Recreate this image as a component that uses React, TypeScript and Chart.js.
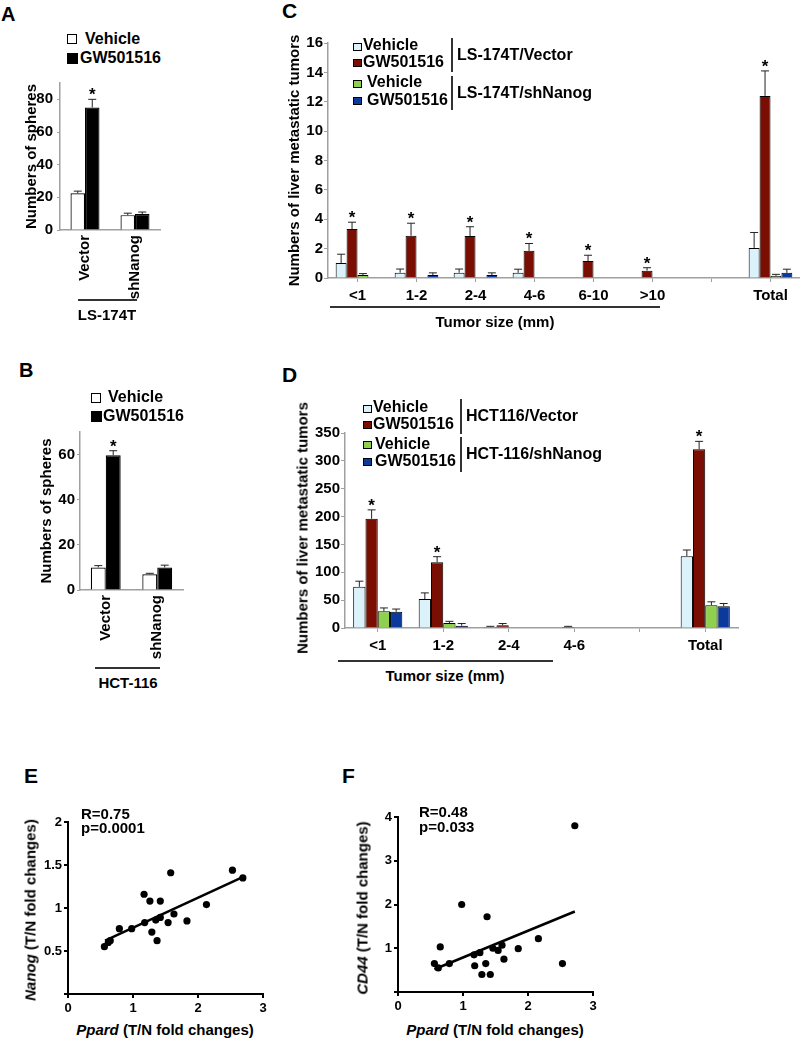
import React, { useEffect, useRef } from 'react';
import { Chart, registerables } from 'chart.js';

Chart.register(...registerables);

// ---------------- Panel A ----------------
const aCategories = ['Vector', 'shNanog'];
const aVehicle = [22.5, 9.1];
const aVehicleErr = [1.3, 1.2];
const aGW = [75, 9.8];
const aGWErr = [5, 1.2];
const aGWStar = [true, false];

// ---------------- Panel B ----------------
const bCategories = ['Vector', 'shNanog'];
const bVehicle = [10, 7];
const bVehicleErr = [0.8, 0.4];
const bGW = [59.7, 10];
const bGWErr = [2, 1];
const bGWStar = [true, false];

// ---------------- Panel C ----------------
const cCategories = ['<1', '1-2', '2-4', '4-6', '6-10', '>10', '', 'Total'];
const cVectorVehicle = [1.02, 0.36, 0.36, 0.35, null, null, null, 2.05];
const cVectorVehicleErr = [0.6, 0.25, 0.25, 0.25, 0, 0, 0, 1.05];
const cVectorGW = [3.33, 2.88, 2.86, 1.85, 1.15, 0.5, null, 12.4];
const cVectorGWErr = [0.47, 0.85, 0.63, 0.5, 0.4, 0.2, 0, 1.7];
const cVectorGWStar = [true, true, true, true, true, true, false, true];
const cShVehicle = [0.2, null, null, null, null, null, null, 0.15];
const cShVehicleErr = [0.1, 0, 0, 0, 0, 0, 0, 0.1];
const cShGW = [null, 0.2, 0.2, null, null, null, null, 0.35];
const cShGWErr = [0, 0.15, 0.15, 0, 0, 0, 0, 0.25];

// ---------------- Panel D ----------------
const dCategories = ['<1', '1-2', '2-4', '4-6', '', 'Total'];
const dVectorVehicle = [74, 52, 2, null, null, 129];
const dVectorVehicleErr = [10, 11, 1, 0, 0, 11];
const dVectorGW = [196, 118, 5, 2, null, 321];
const dVectorGWErr = [16, 10, 3, 1, 0, 14];
const dVectorGWStar = [true, true, false, false, false, true];
const dShVehicle = [30, 9, 1, null, null, 41];
const dShVehicleErr = [6, 3, 0, 0, 0, 6];
const dShGW = [29, 4, 1, null, null, 39];
const dShGWErr = [5, 4, 0, 0, 0, 5];

// ---------------- Panel E ----------------
const ePpard = [0.56, 0.62, 0.65, 0.79, 0.98, 1.18, 1.17, 1.26, 1.42, 1.29, 1.37, 1.35, 1.42, 1.54, 1.63, 1.58, 1.83, 2.13, 2.53, 2.69];
const eNanog = [0.55, 0.6, 0.62, 0.76, 0.76, 0.83, 1.16, 1.08, 1.08, 0.72, 0.62, 0.86, 0.89, 0.83, 0.93, 1.41, 0.85, 1.04, 1.44, 1.35];
const eFitX = [0.57, 2.72];
const eFitY = [0.62, 1.37];

// ---------------- Panel F ----------------
const fPpard = [0.56, 0.62, 0.65, 0.79, 0.98, 1.18, 1.17, 1.26, 1.42, 1.29, 1.37, 1.35, 1.46, 1.54, 1.63, 1.6, 1.85, 2.16, 2.53, 2.72];
const fCD44 = [0.65, 0.55, 1.03, 0.65, 2.0, 0.6, 0.85, 0.9, 0.4, 0.4, 1.72, 0.65, 1.0, 0.95, 0.75, 1.07, 0.99, 1.22, 0.65, 3.8];
const fFitX = [0.56, 2.72];
const fFitY = [0.52, 1.84];

// ---------------- styles ----------------
const FONT = '"Liberation Sans", Arial, Helvetica, sans-serif';
const AXIS_GRAY = '#a0a0a0';
const C_VEH = '#dcf2fb';
const C_GW = '#7a0e02';
const C_SHVEH = '#8fd14f';
const C_SHGW = '#0b3a9c';

const errorBarPlugin = {
  id: 'errorBars',
  afterDatasetsDraw(chart: any) {
    const ctx = chart.ctx;
    const yScale = chart.scales.y;
    chart.data.datasets.forEach((ds: any, i: number) => {
      if (!ds.errors) return;
      const meta = chart.getDatasetMeta(i);
      meta.data.forEach((bar: any, j: number) => {
        const v = ds.data[j];
        if (v == null) return;
        const e = ds.errors[j] || 0;
        const top = yScale.getPixelForValue(v + e);
        ctx.save();
        if (e > 0) {
          ctx.strokeStyle = '#222';
          ctx.lineWidth = 1;
          ctx.beginPath();
          ctx.moveTo(bar.x, bar.y);
          ctx.lineTo(bar.x, top);
          ctx.moveTo(bar.x - 4, top);
          ctx.lineTo(bar.x + 4, top);
          ctx.stroke();
        }
        if (ds.stars && ds.stars[j]) {
          ctx.fillStyle = '#000';
          ctx.font = `bold 17px ${FONT}`;
          ctx.textAlign = 'center';
          ctx.textBaseline = 'alphabetic';
          ctx.fillText('*', bar.x, top + 1);
        }
        ctx.restore();
      });
    });
  },
};

type BarOpts = {
  labels: string[];
  datasets: any[];
  yMax: number;
  yStep: number;
  yW: number;
  xH: number;
  padTop: number;
  padRight: number;
  title: string;
  titleSize: number;
  tickSize: number;
  yTickLen: number;
  yTickPad: number;
  xRot: number;
  xTickLen: number;
  xTickPad: number;
  xTickSize: number;
  catPct: number;
};

function barConfig(o: BarOpts) {
  return {
    type: 'bar',
    data: { labels: o.labels, datasets: o.datasets },
    options: {
      animation: false,
      responsive: false,
      layout: { padding: { top: o.padTop, right: o.padRight, left: 0, bottom: 0 } },
      plugins: { legend: { display: false }, tooltip: { enabled: false } },
      datasets: { bar: { categoryPercentage: o.catPct, barPercentage: 1 } },
      scales: {
        x: {
          ticks: {
            font: { family: FONT, size: o.xTickSize, weight: 'bold' },
            color: '#000',
            autoSkip: false,
            maxRotation: o.xRot,
            minRotation: o.xRot,
            padding: o.xTickPad,
          },
          grid: {
            display: true,
            drawOnChartArea: false,
            offset: false,
            drawTicks: o.xTickLen > 0,
            tickLength: o.xTickLen,
            color: AXIS_GRAY,
          },
          border: { display: true, color: AXIS_GRAY, width: 1.5 },
          afterFit: (s: any) => {
            s.height = o.xH;
          },
        },
        y: {
          min: 0,
          max: o.yMax,
          ticks: {
            stepSize: o.yStep,
            includeBounds: false,
            font: { family: FONT, size: o.tickSize, weight: 'bold' },
            color: '#000',
            padding: o.yTickPad,
          },
          grid: {
            display: true,
            drawOnChartArea: false,
            drawTicks: true,
            tickLength: o.yTickLen,
            color: AXIS_GRAY,
          },
          border: { display: true, color: AXIS_GRAY, width: 1.5 },
          title: {
            display: o.title !== '',
            text: o.title,
            color: '#000',
            padding: 0,
            font: { family: FONT, size: o.titleSize, weight: 'bold', lineHeight: 1.2 },
          },
          afterFit: (s: any) => {
            s.width = o.yW;
          },
        },
      },
    },
    plugins: [errorBarPlugin],
  };
}

type ScatterOpts = {
  xs: number[];
  ys: number[];
  fitX: number[];
  fitY: number[];
  yMax: number;
  yStep: number;
  yW: number;
  xH: number;
  padTop: number;
  padRight: number;
};

function scatterConfig(o: ScatterOpts) {
  return {
    type: 'scatter',
    data: {
      datasets: [
        {
          data: o.xs.map((x, i) => ({ x, y: o.ys[i] })),
          pointRadius: 3.6,
          pointBackgroundColor: '#000',
          pointBorderColor: '#000',
          pointBorderWidth: 0,
        },
        {
          type: 'line',
          data: o.fitX.map((x, i) => ({ x, y: o.fitY[i] })),
          borderColor: '#000',
          borderWidth: 2.5,
          pointRadius: 0,
          showLine: true,
          fill: false,
        },
      ],
    },
    options: {
      animation: false,
      responsive: false,
      layout: { padding: { top: o.padTop, right: o.padRight, left: 0, bottom: 0 } },
      plugins: { legend: { display: false }, tooltip: { enabled: false } },
      scales: {
        x: {
          type: 'linear',
          min: 0,
          max: 3,
          ticks: {
            stepSize: 1,
            font: { family: FONT, size: 13, weight: 'bold' },
            color: '#000',
            padding: 3,
          },
          grid: { display: true, drawOnChartArea: false, drawTicks: true, tickLength: 4, color: '#000', lineWidth: 2 },
          border: { display: true, color: '#000', width: 2 },
          afterFit: (s: any) => {
            s.height = o.xH;
          },
        },
        y: {
          min: 0,
          max: o.yMax,
          ticks: {
            stepSize: o.yStep,
            font: { family: FONT, size: 13, weight: 'bold' },
            color: '#000',
            padding: 2,
            callback: (v: any) => (v === 0 ? '' : String(v)),
          },
          grid: { display: true, drawOnChartArea: false, drawTicks: true, tickLength: 4, color: '#000', lineWidth: 2 },
          border: { display: true, color: '#000', width: 2 },
          afterFit: (s: any) => {
            s.width = o.yW;
          },
        },
      },
    },
  };
}

function ChartBox(props: { left: number; top: number; width: number; height: number; make: () => any }) {
  const ref = useRef<HTMLCanvasElement>(null);
  useEffect(() => {
    const chart = new Chart(ref.current as HTMLCanvasElement, props.make());
    return () => chart.destroy();
  }, []);
  return (
    <canvas
      ref={ref}
      width={props.width}
      height={props.height}
      style={{ position: 'absolute', left: props.left, top: props.top, width: props.width, height: props.height }}
    />
  );
}

// text placed by its baseline
function T(props: { x: number; base: number; size: number; children: any; center?: boolean }) {
  const s = props.size;
  return (
    <div
      style={{
        position: 'absolute',
        left: props.x,
        top: props.base - 0.85 * s,
        fontFamily: FONT,
        fontWeight: 'bold',
        fontSize: s,
        lineHeight: `${s}px`,
        whiteSpace: 'nowrap',
        color: '#000',
        transform: props.center ? 'translateX(-50%)' : undefined,
      }}
    >
      {props.children}
    </div>
  );
}

function Box(props: { x: number; y: number; w: number; h: number; fill: string; border?: number }) {
  return (
    <div
      style={{
        position: 'absolute',
        left: props.x,
        top: props.y,
        width: props.w,
        height: props.h,
        background: props.fill,
        border: `${props.border ?? 1}px solid #000`,
        boxSizing: 'border-box',
      }}
    />
  );
}

function HLine(props: { x1: number; x2: number; y: number; color?: string; w?: number }) {
  return (
    <div
      style={{
        position: 'absolute',
        left: props.x1,
        top: props.y,
        width: props.x2 - props.x1,
        height: props.w ?? 1.5,
        background: props.color ?? '#333',
      }}
    />
  );
}

function VLine(props: { x: number; y1: number; y2: number }) {
  return (
    <div style={{ position: 'absolute', left: props.x, top: props.y1, width: 1.5, height: props.y2 - props.y1, background: '#333' }} />
  );
}

function RotTitle(props: { cx: number; cy: number; size: number; children: any }) {
  return (
    <div
      style={{
        position: 'absolute',
        left: props.cx,
        top: props.cy,
        transform: 'translate(-50%, -50%) rotate(-90deg)',
        fontFamily: FONT,
        fontWeight: 'bold',
        fontSize: props.size,
        lineHeight: `${props.size}px`,
        whiteSpace: 'nowrap',
        color: '#000',
      }}
    >
      {props.children}
    </div>
  );
}

const makeA = () =>
  barConfig({
    labels: aCategories,
    datasets: [
      { label: 'Vehicle', data: aVehicle, errors: aVehicleErr, backgroundColor: '#fff', borderColor: '#000', borderWidth: 1.2 },
      { label: 'GW501516', data: aGW, errors: aGWErr, stars: aGWStar, backgroundColor: '#000', borderColor: '#000', borderWidth: 1.2 },
    ],
    yMax: 90,
    yStep: 20,
    yW: 37,
    xH: 70,
    padTop: 12,
    padRight: 4,
    title: 'Numbers of spheres',
    titleSize: 15,
    tickSize: 15,
    yTickLen: 3,
    yTickPad: 4,
    xRot: 90,
    xTickLen: 0,
    xTickPad: 5,
    xTickSize: 15,
    catPct: 0.58,
  });

const makeB = () =>
  barConfig({
    labels: bCategories,
    datasets: [
      { label: 'Vehicle', data: bVehicle, errors: bVehicleErr, backgroundColor: '#fff', borderColor: '#000', borderWidth: 1.2 },
      { label: 'GW501516', data: bGW, errors: bGWErr, stars: bGWStar, backgroundColor: '#000', borderColor: '#000', borderWidth: 1.2 },
    ],
    yMax: 70,
    yStep: 20,
    yW: 42,
    xH: 70,
    padTop: 12,
    padRight: 4,
    title: 'Numbers of spheres',
    titleSize: 15,
    tickSize: 15,
    yTickLen: 3,
    yTickPad: 2,
    xRot: 90,
    xTickLen: 0,
    xTickPad: 5,
    xTickSize: 15,
    catPct: 0.58,
  });

const fourSets = (
  v: any[], ve: number[], g: any[], ge: number[], gs: boolean[], sv: any[], sve: number[], sg: any[], sge: number[]
) => [
  { label: 'Vehicle', data: v, errors: ve, backgroundColor: C_VEH, borderColor: '#000', borderWidth: 1 },
  { label: 'GW501516', data: g, errors: ge, stars: gs, backgroundColor: C_GW, borderColor: '#000', borderWidth: 1 },
  { label: 'Vehicle', data: sv, errors: sve, backgroundColor: C_SHVEH, borderColor: '#000', borderWidth: 1 },
  { label: 'GW501516', data: sg, errors: sge, backgroundColor: C_SHGW, borderColor: '#000', borderWidth: 1 },
];

const makeC = () =>
  barConfig({
    labels: cCategories,
    datasets: fourSets(cVectorVehicle, cVectorVehicleErr, cVectorGW, cVectorGWErr, cVectorGWStar, cShVehicle, cShVehicleErr, cShGW, cShGWErr),
    yMax: 16,
    yStep: 2,
    yW: 42,
    xH: 30,
    padTop: 10,
    padRight: 0,
    title: 'Numbers of liver metastatic tumors',
    titleSize: 15,
    tickSize: 15,
    yTickLen: 4,
    yTickPad: 1,
    xRot: 0,
    xTickLen: 4,
    xTickPad: 5,
    xTickSize: 15,
    catPct: 0.74,
  });

const makeD = () =>
  barConfig({
    labels: dCategories,
    datasets: fourSets(dVectorVehicle, dVectorVehicleErr, dVectorGW, dVectorGWErr, dVectorGWStar, dShVehicle, dShVehicleErr, dShGW, dShGWErr),
    yMax: 350,
    yStep: 50,
    yW: 52,
    xH: 30,
    padTop: 13,
    padRight: 4,
    title: '',
    titleSize: 15,
    tickSize: 15,
    yTickLen: 4,
    yTickPad: 1,
    xRot: 0,
    xTickLen: 4,
    xTickPad: 5,
    xTickSize: 15,
    catPct: 0.75,
  });

const makeE = () =>
  scatterConfig({ xs: ePpard, ys: eNanog, fitX: eFitX, fitY: eFitY, yMax: 2, yStep: 0.5, yW: 40, xH: 25, padTop: 10, padRight: 10 });

const makeF = () =>
  scatterConfig({ xs: fPpard, ys: fCD44, fitX: fFitX, fitY: fFitY, yMax: 4, yStep: 1, yW: 40, xH: 25, padTop: 10, padRight: 10 });

export default function App() {
  return (
    <div style={{ position: 'absolute', left: 0, top: 0, width: 800, height: 1043, background: '#fff', overflow: 'hidden' }}>
      {/* Panel A: plot 60..160 x 82..230 */}
      <ChartBox left={23} top={70} width={141} height={230} make={makeA} />
      {/* Panel B: plot 80..183 x 432..590 */}
      <ChartBox left={38} top={420} width={149} height={240} make={makeB} />
      {/* Panel C: plot 328..800 x 43..278 */}
      <ChartBox left={286} top={33} width={514} height={275} make={makeC} />
      {/* Panel D: plot 345..738 x 433..628 */}
      <ChartBox left={293} top={420} width={449} height={238} make={makeD} />
      {/* Panel E: plot 68..263 x 822..994 */}
      <ChartBox left={28} top={812} width={245} height={207} make={makeE} />
      {/* Panel F: plot 398..593 x 817..992 */}
      <ChartBox left={358} top={807} width={245} height={210} make={makeF} />

      {/* panel letters */}
      <T x={1} base={21} size={20}>A</T>
      <T x={19} base={377} size={20}>B</T>
      <T x={282} base={18} size={21}>C</T>
      <T x={282} base={382} size={21}>D</T>
      <T x={24} base={783} size={21}>E</T>
      <T x={342} base={783} size={21}>F</T>

      {/* Legend A */}
      <Box x={67} y={34} w={10} h={10} fill="#fff" />
      <T x={85} base={45} size={16}>Vehicle</T>
      <Box x={67} y={53} w={11} h={11} fill="#000" />
      <T x={80} base={64} size={16}>GW501516</T>
      <HLine x1={78} x2={137} y={299} />
      <T x={107} base={320} size={15} center>LS-174T</T>

      {/* Legend B */}
      <Box x={91} y={393} w={10} h={10} fill="#fff" />
      <T x={108} base={403} size={16}>Vehicle</T>
      <Box x={91} y={411} w={11} h={11} fill="#000" />
      <T x={103} base={422} size={16}>GW501516</T>
      <HLine x1={95} x2={160} y={667} />
      <T x={128} base={688} size={15} center>HCT-116</T>

      {/* Legend C */}
      <Box x={353} y={43} w={9} h={8} fill={C_VEH} />
      <T x={363} base={51} size={16}>Vehicle</T>
      <Box x={353} y={59} w={9} h={8} fill={C_GW} />
      <T x={363} base={68} size={16}>GW501516</T>
      <Box x={353} y={80} w={9} h={8} fill={C_SHVEH} />
      <T x={367} base={88} size={16}>Vehicle</T>
      <Box x={353} y={97} w={9} h={8} fill={C_SHGW} />
      <T x={367} base={106} size={16}>GW501516</T>
      <VLine x={451} y1={38} y2={72} />
      <VLine x={451} y1={76} y2={110} />
      <T x={457} base={61} size={16}>LS-174T/Vector</T>
      <T x={457} base={98.5} size={16}>LS-174T/shNanog</T>
      <HLine x1={330} x2={660} y={306} />
      <T x={495} base={327} size={15} center>Tumor size (mm)</T>

      {/* Legend D */}
      <RotTitle cx={302} cy={528} size={15}>Numbers of liver metastatic tumors</RotTitle>
      <Box x={363} y={405} w={9} h={8} fill={C_VEH} />
      <T x={373} base={413} size={16}>Vehicle</T>
      <Box x={363} y={421} w={9} h={8} fill={C_GW} />
      <T x={373} base={430} size={16}>GW501516</T>
      <Box x={363} y={441} w={9} h={8} fill={C_SHVEH} />
      <T x={375} base={450} size={16}>Vehicle</T>
      <Box x={363} y={458} w={9} h={8} fill={C_SHGW} />
      <T x={375} base={467} size={16}>GW501516</T>
      <VLine x={460} y1={399} y2={434} />
      <VLine x={460} y1={437} y2={472} />
      <T x={466} base={421.5} size={16}>HCT116/Vector</T>
      <T x={466} base={460} size={16}>HCT-116/shNanog</T>
      <HLine x1={338} x2={553} y={660} />
      <T x={445} base={681} size={15} center>Tumor size (mm)</T>

      {/* Panel E texts */}
      <T x={81} base={819} size={15}>R=0.75</T>
      <T x={81} base={833} size={15}>p=0.0001</T>
      <RotTitle cx={30} cy={910} size={15}>
        <i>Nanog</i> (T/N fold changes)
      </RotTitle>
      <T x={165} base={1035} size={15} center>
        <i>Ppard</i> (T/N fold changes)
      </T>

      {/* Panel F texts */}
      <T x={419} base={817} size={15}>R=0.48</T>
      <T x={419} base={832} size={15}>p=0.033</T>
      <RotTitle cx={362} cy={908} size={15}>
        <i>CD44</i> (T/N fold changes)
      </RotTitle>
      <T x={495} base={1035} size={15} center>
        <i>Ppard</i> (T/N fold changes)
      </T>
    </div>
  );
}
